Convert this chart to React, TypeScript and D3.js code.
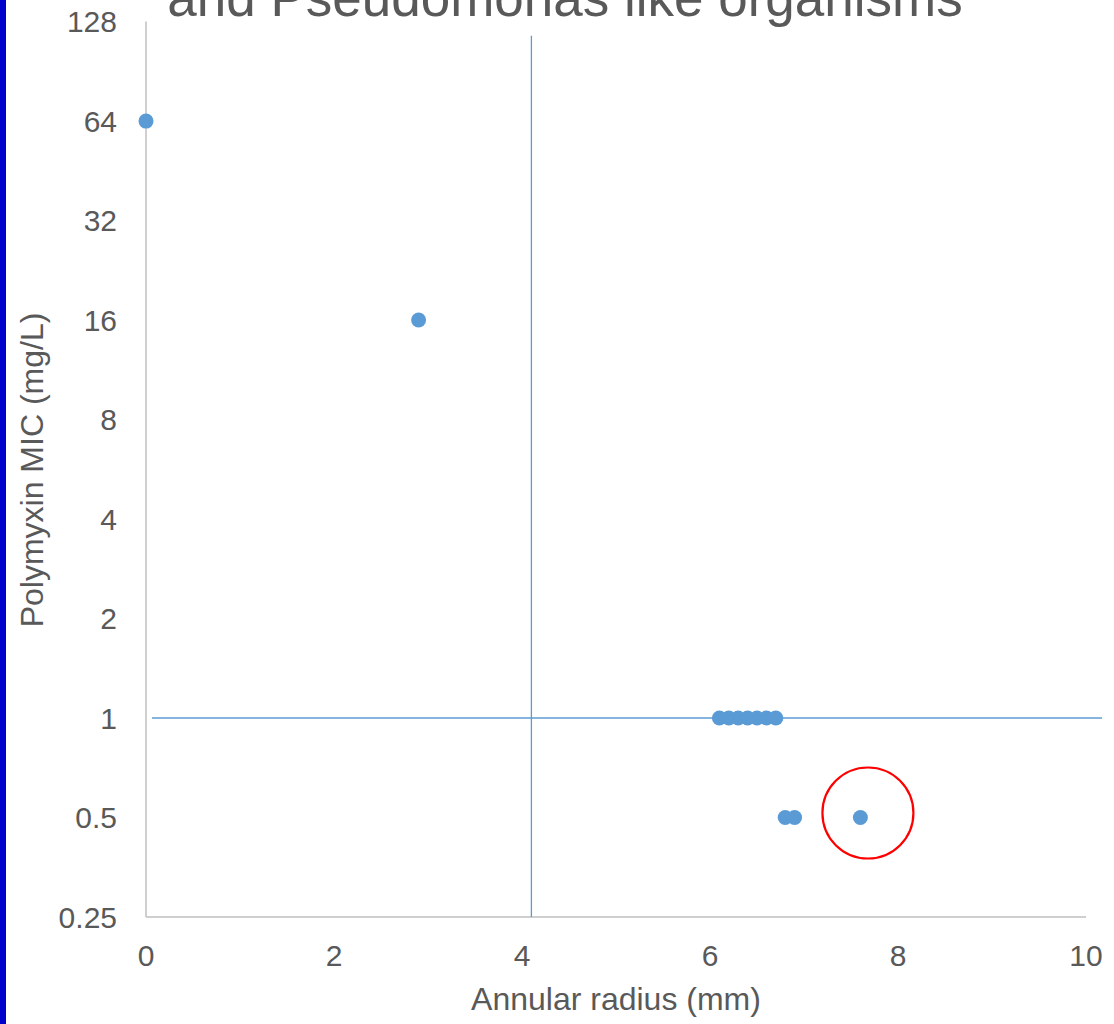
import React from "react";
import * as d3 from "d3";

const W = 1114;
const H = 1024;

const titleLine = "and Pseudomonas like organisms";
const xLabel = "Annular radius (mm)";
const yLabel = "Polymyxin MIC (mg/L)";

const xTicks = [0, 2, 4, 6, 8, 10];
const yTicks = [0.25, 0.5, 1, 2, 4, 8, 16, 32, 64, 128];

const radius = [0, 2.9, 6.1, 6.2, 6.3, 6.4, 6.5, 6.6, 6.7, 6.8, 6.9, 7.6];
const mic = [64, 16, 1, 1, 1, 1, 1, 1, 1, 0.5, 0.5, 0.5];

// breakpoint reference lines
const vLineX = [4.1, 4.1];
const vLineY = [0.25, 116];
const hLineX = [0.064, 10.17];
const hLineY = [1, 1];

// highlighted point annotation
const highlight = { x: 7.68, y: 0.516 };

const FONT = "'Liberation Sans', Arial, sans-serif";
const GREY = "#595959";
const BLUE = "#5B9BD5";

export default function App() {
  const x = d3.scaleLinear().domain([0, 10]).range([146, 1086]);
  const y = d3.scaleLog().base(2).domain([0.25, 128]).range([917, 21.6]);
  const line = d3
    .line<[number, number]>()
    .x((d) => x(d[0]))
    .y((d) => y(d[1]));
  const vPts: [number, number][] = vLineX.map((v, i) => [v, vLineY[i]]);
  const hPts: [number, number][] = hLineX.map((v, i) => [v, hLineY[i]]);
  const pts = radius.map((r, i) => ({ r, m: mic[i] }));

  return (
    <svg
      width={W}
      height={H}
      style={{ position: "absolute", left: 0, top: 0, background: "#fff" }}
      fontFamily={FONT}
    >
      <rect x={0} y={0} width={W} height={H} fill="#fff" />
      <rect x={0} y={0} width={6} height={H} fill="#0000CC" />
      <text x={565} y={16} fontSize={53} fill={GREY} textAnchor="middle">
        {titleLine}
      </text>
      {/* axes */}
      <line x1={x(0)} x2={x(0)} y1={y(128)} y2={y(0.25)} stroke="#BFBFBF" strokeWidth={1.5} />
      <line x1={x(0)} x2={x(10)} y1={y(0.25)} y2={y(0.25)} stroke="#BFBFBF" strokeWidth={1.5} />
      {yTicks.map((t) => (
        <text
          key={"y" + t}
          x={117}
          y={y(t)}
          dy="0.36em"
          fontSize={30}
          fill={GREY}
          textAnchor="end"
        >
          {t}
        </text>
      ))}
      {xTicks.map((t) => (
        <text key={"x" + t} x={x(t)} y={966} fontSize={30} fill={GREY} textAnchor="middle">
          {t}
        </text>
      ))}
      <text x={616} y={1010} fontSize={32} fill={GREY} textAnchor="middle">
        {xLabel}
      </text>
      <text
        transform={`translate(43,470) rotate(-90)`}
        fontSize={32}
        fill={GREY}
        textAnchor="middle"
      >
        {yLabel}
      </text>
      {/* reference lines */}
      <path d={line(vPts) || ""} stroke={BLUE} strokeWidth={1.3} fill="none" />
      <path d={line(hPts) || ""} stroke={BLUE} strokeWidth={1.3} fill="none" />
      {pts.map((p, i) => (
        <circle key={i} cx={x(p.r)} cy={y(p.m)} r={7.5} fill={BLUE} />
      ))}
      <circle
        cx={x(highlight.x)}
        cy={y(highlight.y)}
        r={45.5}
        fill="none"
        stroke="#FF0000"
        strokeWidth={2.2}
      />
    </svg>
  );
}
